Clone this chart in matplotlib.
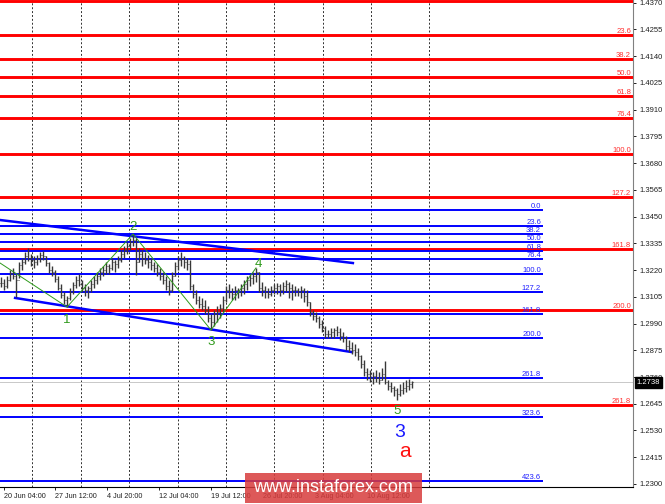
"""Wave count chart: price bars with Fibonacci levels, channel and wave marks."""

import matplotlib
matplotlib.use("Agg")
import matplotlib.pyplot as plt
from matplotlib.patches import Rectangle

plt.rcParams['font.family'] = ['Liberation Sans', 'DejaVu Sans']

# ---- data ----
price_ticks = [1.2300, 1.2415, 1.2530, 1.2645, 1.2760, 1.2875, 1.2990, 1.3105,
               1.3220, 1.3335, 1.3450, 1.3565, 1.3680, 1.3795, 1.3910, 1.4025,
               1.4140, 1.4255, 1.4370]

time_labels = ["20 Jun 04:00", "27 Jun 12:00", "4 Jul 20:00", "12 Jul 04:00",
               "19 Jul 12:00", "26 Jul 20:00", "3 Aug 04:00", "10 Aug 12:00"]
time_label_bars = [1, 18, 35.3, 52.7, 70, 87.3, 104.7, 122]
grid_bars = [10.3, 26.7, 42.7, 59, 75, 91, 107.3, 123.3, 142.7]

highs = [1.3190, 1.3181, 1.3194, 1.3220, 1.3229, 1.3203, 1.3254, 1.3272, 1.3297, 1.3315,
         1.3289, 1.3280, 1.3284, 1.3297, 1.3302, 1.3280, 1.3254, 1.3237, 1.3220, 1.3194,
         1.3160, 1.3125, 1.3108, 1.3143, 1.3168, 1.3194, 1.3203, 1.3177, 1.3160, 1.3151,
         1.3177, 1.3194, 1.3211, 1.3229, 1.3237, 1.3254, 1.3246, 1.3272, 1.3263, 1.3280,
         1.3306, 1.3323, 1.3340, 1.3358, 1.3375, 1.3358, 1.3315, 1.3306, 1.3297, 1.3284,
         1.3272, 1.3254, 1.3246, 1.3229, 1.3211, 1.3194, 1.3177, 1.3211, 1.3254, 1.3280,
         1.3297, 1.3280, 1.3272, 1.3263, 1.3160, 1.3134, 1.3108, 1.3100, 1.3091, 1.3065,
         1.3031, 1.3048, 1.3065, 1.3074, 1.3108, 1.3151, 1.3160, 1.3143, 1.3151, 1.3143,
         1.3160, 1.3177, 1.3194, 1.3203, 1.3211, 1.3229, 1.3211, 1.3168, 1.3151, 1.3143,
         1.3151, 1.3160, 1.3164, 1.3160, 1.3168, 1.3177, 1.3168, 1.3160, 1.3151, 1.3143,
         1.3151, 1.3143, 1.3134, 1.3082, 1.3048, 1.3039, 1.3022, 1.3005, 1.2979, 1.2962,
         1.2971, 1.2971, 1.2979, 1.2971, 1.2953, 1.2936, 1.2919, 1.2910, 1.2902, 1.2885,
         1.2854, 1.2833, 1.2799, 1.2790, 1.2781, 1.2790, 1.2781, 1.2799, 1.2829, 1.2747,
         1.2738, 1.2721, 1.2713, 1.2730, 1.2738, 1.2747, 1.2751, 1.2743]

lows = [1.3147, 1.3134, 1.3143, 1.3173, 1.3181, 1.3104, 1.3186, 1.3220, 1.3246, 1.3259,
        1.3237, 1.3229, 1.3241, 1.3254, 1.3263, 1.3237, 1.3207, 1.3194, 1.3168, 1.3134,
        1.3100, 1.3074, 1.3061, 1.3091, 1.3117, 1.3143, 1.3151, 1.3125, 1.3108, 1.3100,
        1.3125, 1.3143, 1.3160, 1.3177, 1.3194, 1.3203, 1.3203, 1.3220, 1.3211, 1.3229,
        1.3254, 1.3272, 1.3289, 1.3306, 1.3323, 1.3198, 1.3254, 1.3237, 1.3246, 1.3229,
        1.3220, 1.3211, 1.3194, 1.3177, 1.3160, 1.3134, 1.3112, 1.3125, 1.3194, 1.3220,
        1.3237, 1.3229, 1.3220, 1.3134, 1.3100, 1.3074, 1.3057, 1.3048, 1.3031, 1.2996,
        1.2962, 1.2979, 1.2996, 1.3014, 1.3039, 1.3082, 1.3100, 1.3091, 1.3091, 1.3100,
        1.3108, 1.3117, 1.3134, 1.3151, 1.3160, 1.3168, 1.3125, 1.3108, 1.3100, 1.3100,
        1.3108, 1.3117, 1.3117, 1.3108, 1.3117, 1.3125, 1.3100, 1.3091, 1.3108, 1.3108,
        1.3100, 1.3082, 1.3065, 1.3022, 1.3005, 1.2996, 1.2971, 1.2953, 1.2928, 1.2928,
        1.2928, 1.2928, 1.2936, 1.2919, 1.2910, 1.2876, 1.2867, 1.2859, 1.2850, 1.2833,
        1.2799, 1.2764, 1.2747, 1.2738, 1.2730, 1.2738, 1.2730, 1.2747, 1.2730, 1.2704,
        1.2695, 1.2678, 1.2661, 1.2678, 1.2687, 1.2695, 1.2704, 1.2713]

closes = [1.3164, 1.3151, 1.3177, 1.3207, 1.3194, 1.3177, 1.3241, 1.3254, 1.3280, 1.3272,
          1.3263, 1.3254, 1.3272, 1.3284, 1.3280, 1.3250, 1.3220, 1.3211, 1.3181, 1.3143,
          1.3112, 1.3091, 1.3100, 1.3125, 1.3155, 1.3177, 1.3160, 1.3143, 1.3134, 1.3143,
          1.3160, 1.3177, 1.3194, 1.3211, 1.3220, 1.3237, 1.3229, 1.3254, 1.3246, 1.3263,
          1.3289, 1.3306, 1.3323, 1.3340, 1.3349, 1.3254, 1.3289, 1.3272, 1.3263, 1.3254,
          1.3241, 1.3229, 1.3211, 1.3194, 1.3177, 1.3151, 1.3134, 1.3194, 1.3237, 1.3263,
          1.3272, 1.3254, 1.3246, 1.3151, 1.3117, 1.3091, 1.3074, 1.3065, 1.3048, 1.3014,
          1.2996, 1.3031, 1.3039, 1.3057, 1.3091, 1.3134, 1.3125, 1.3117, 1.3134, 1.3125,
          1.3143, 1.3160, 1.3177, 1.3186, 1.3194, 1.3211, 1.3143, 1.3134, 1.3125, 1.3117,
          1.3134, 1.3143, 1.3151, 1.3134, 1.3151, 1.3160, 1.3143, 1.3134, 1.3134, 1.3125,
          1.3134, 1.3108, 1.3082, 1.3039, 1.3022, 1.3014, 1.2988, 1.2971, 1.2945, 1.2945,
          1.2953, 1.2962, 1.2953, 1.2936, 1.2928, 1.2893, 1.2885, 1.2876, 1.2867, 1.2850,
          1.2816, 1.2781, 1.2773, 1.2756, 1.2764, 1.2756, 1.2747, 1.2773, 1.2738, 1.2721,
          1.2713, 1.2704, 1.2687, 1.2704, 1.2713, 1.2721, 1.2730, 1.2738]

last_price = 1.2738

# big (red) Fibonacci grid; the 0.0 label sits off the top edge
red_levels = [1.4378, 1.4230, 1.4127, 1.4050, 1.3968, 1.3874, 1.3719, 1.3534,
              1.3310, 1.3048, 1.2640]
red_labels = ["", "23.6", "38.2", "50.0", "61.8", "76.4", "100.0", "127.2",
              "161.8", "200.0", "261.8"]

# small (blue) Fibonacci grid
blue_levels = [1.3478, 1.3409, 1.3375, 1.3341, 1.3302, 1.3267, 1.3203, 1.3126,
               1.3031, 1.2928, 1.2756, 1.2588, 1.2313]
blue_labels = ["0.0", "23.6", "38.2", "50.0", "61.8", "76.4", "100.0", "127.2",
               "161.8", "200.0", "261.8", "323.6", "423.6"]

# channel lines (bar, price) pairs
upper_channel_bars = [-0.3, 117.3]
upper_channel_prices = [1.3435, 1.3250]
lower_channel_bars = [4.7, 117.0]
lower_channel_prices = [1.3100, 1.2867]

# wave zigzag and wave marks
zigzag_bars = [-0.3, 22, 44, 70, 85]
zigzag_prices = [1.3250, 1.3061, 1.3375, 1.2962, 1.3229]
wave_names = ["1", "2", "3", "4", "5"]
wave_bars = [22, 44, 70, 85.7, 132]
wave_prices = [1.3003, 1.3405, 1.2910, 1.3246, 1.2614]

BAR_COLOR = '#383838'
RED = '#ff0000'
BLUE = '#0000ff'
GREEN = '#2f9a1c'


def plot_chart():
    fig = plt.figure(figsize=(6.65, 5.04), dpi=100)
    ax = fig.add_axes([0, 0.0337, 0.9519, 0.9663])
    ax.set_xlim(-0.33, 210.67)
    ax.set_ylim(1.2287, 1.4381)

    # vertical dashed grid
    for gx in grid_bars:
        ax.axvline(gx, color='#303030', lw=0.7, ls=(0, (2, 2)), zorder=1)

    # last price line
    ax.axhline(last_price, color='#c8c8c8', lw=0.7, zorder=1)

    # red Fibonacci levels (full width)
    for lvl, lab in zip(red_levels, red_labels):
        ax.axhline(lvl, color=RED, lw=2.1, zorder=3)
        if lab:
            ax.text(210.0, lvl + 0.0009, lab, color='#ff3030', fontsize=5.5,
                    ha='right', va='baseline', zorder=5)

    # blue Fibonacci levels
    for lvl, lab in zip(blue_levels, blue_labels):
        ax.hlines(lvl, -0.33, 180.7, color=BLUE, lw=1.4, zorder=3)
        ax.text(180.0, lvl + 0.0008, lab, color='#2020ff', fontsize=5.5,
                ha='right', va='baseline', zorder=5)

    # channel
    ax.plot(upper_channel_bars, upper_channel_prices, color=BLUE, lw=1.8, zorder=4)
    ax.plot(lower_channel_bars, lower_channel_prices, color=BLUE, lw=1.8, zorder=4)

    # price bars
    idx = list(range(len(highs)))
    opens = [closes[0]] + closes[:-1]
    ax.vlines(idx, lows, highs, color=BAR_COLOR, lw=1.0, zorder=6)
    ax.hlines(opens, [i - 0.45 for i in idx], idx, color=BAR_COLOR, lw=0.7, zorder=6)
    ax.hlines(closes, idx, [i + 0.45 for i in idx], color=BAR_COLOR, lw=0.7, zorder=6)

    # wave zigzag
    ax.plot(zigzag_bars, zigzag_prices, color=GREEN, lw=0.7, zorder=7)
    for name, bx, py in zip(wave_names, wave_bars, wave_prices):
        ax.text(bx, py, name, color=GREEN, fontsize=9.5, ha='center', va='center', zorder=8)

    ax.text(133, 1.2523, "3", color='#1a1aff', fontsize=14, ha='center', va='center', zorder=8)
    ax.text(134.5, 1.2440, "a", color='#ff1010', fontsize=15, ha='center', va='center', zorder=8)

    # axes styling
    for side in ('left', 'top'):
        ax.spines[side].set_visible(False)
    ax.spines['right'].set_color('#808080')
    ax.spines['bottom'].set_color('black')
    ax.yaxis.tick_right()
    ax.set_yticks(price_ticks)
    ax.set_yticklabels([f"{p:.4f}" for p in price_ticks])
    ax.tick_params(axis='y', length=2.5, width=0.7, pad=2, labelsize=5.5, colors='#202020')
    ax.set_xticks(time_label_bars)
    ax.set_xticklabels(time_labels, ha='left')
    ax.tick_params(axis='x', length=2, width=0.7, pad=2, labelsize=5.2, colors='#202020')

    # last price box
    ax.annotate(f"{last_price:.4f}", xy=(1.0, last_price), xycoords=('axes fraction', 'data'),
                xytext=(2.5, 0), textcoords='offset points', ha='left', va='center',
                fontsize=5.5, color='white',
                bbox=dict(boxstyle='square,pad=0.25', fc='black', ec='black'), zorder=9,
                annotation_clip=False)

    # watermark (covers part of the time labels, as in the original)
    fig.patches.append(Rectangle((245 / 665, 1 / 504), 177 / 665, 30 / 504,
                                 transform=fig.transFigure, facecolor='#d83c3c',
                                 alpha=0.85, edgecolor='none', zorder=10))
    fig.text(333 / 665, 16 / 504, "www.instaforex.com", color='white', fontsize=13,
             ha='center', va='center', zorder=11)

    fig.savefig("out.png", dpi=100)
    return fig


if __name__ == "__main__":
    plot_chart()
